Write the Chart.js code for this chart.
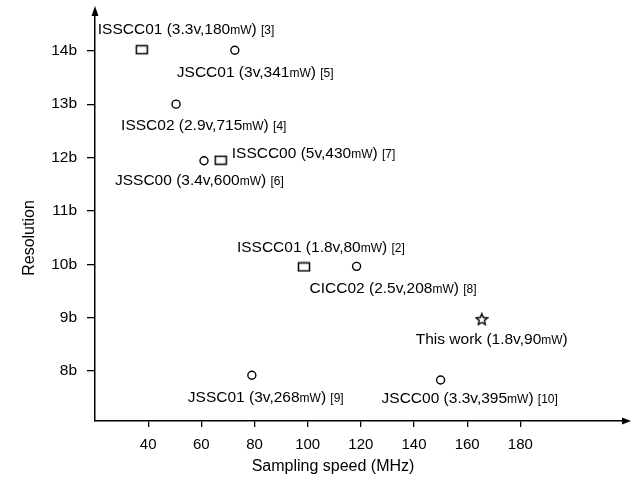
<!DOCTYPE html>
<html>
<head>
<meta charset="utf-8">
<script src="https://cdn.jsdelivr.net/npm/chart.js@4/dist/chart.umd.min.js"></script>
<style>
  html, body { margin: 0; padding: 0; background: #fff; }
  canvas { display: block; }
</style>
</head>
<body>
<canvas id="chart" width="632" height="487"></canvas>
<script>
// data
const circleX = [72.6, 50.5, 61.0, 118.4, 79.0, 150.0];
const circleY = [14.01, 13.0, 11.94, 9.96, 7.92, 7.83];
const circleLabels = [
    'JSCC01 (3v,341mW) [5]',
    'ISSC02 (2.9v,715mW) [4]',
    'JSSC00 (3.4v,600mW) [6]',
    'CICC02 (2.5v,208mW) [8]',
    'JSSC01 (3v,268mW) [9]',
    'JSCC00 (3.3v,395mW) [10]'
];

const rectX = [37.6, 67.3, 98.6];
const rectY = [14.02, 11.95, 9.95];
const rectLabels = [
    'ISSCC01 (3.3v,180mW) [3]',
    'ISSCC00 (5v,430mW) [7]',
    'ISSCC01 (1.8v,80mW) [2]'
];

const starX = [165.5];
const starY = [8.97];
const starLabels = ['This work (1.8v,90mW)'];

const xTicks = [40, 60, 80, 100, 120, 140, 160, 180];
const yTicks = [8, 9, 10, 11, 12, 13, 14];

const xTitle = 'Sampling speed (MHz)';
const yTitle = 'Resolution';

// label placement: [dx, dy] of text start / baseline from the marker
const circleLabelOffsets = [[-58, 27], [-55, 26], [-89, 24], [-47, 27], [-64, 27], [-59, 23]];
const rectLabelOffsets = [[-44, -16], [11, -2], [-67, -15]];
const starLabelOffsets = [[-66, 25]];

const FONT = '"Liberation Sans", Arial, sans-serif';
const INK = '#000';

function toPoints(xs, ys) {
    return xs.map((x, i) => ({ x, y: ys[i] }));
}

function makeRectMarker() {
    const c = document.createElement('canvas');
    c.width = 14;
    c.height = 11;
    const ctx = c.getContext('2d');
    ctx.fillStyle = '#fff';
    ctx.fillRect(1.5, 1.5, 11, 8);
    ctx.strokeStyle = INK;
    ctx.lineWidth = 1.5;
    ctx.strokeRect(1.5, 1.5, 11, 8);
    return c;
}

function makeStarMarker() {
    const c = document.createElement('canvas');
    c.width = 14;
    c.height = 14;
    const ctx = c.getContext('2d');
    ctx.beginPath();
    for (let i = 0; i < 10; i++) {
        const r = i % 2 === 0 ? 6 : 2.7;
        const a = -Math.PI / 2 + i * Math.PI / 5;
        const px = 7 + r * Math.cos(a);
        const py = 7.5 + r * Math.sin(a);
        if (i === 0) ctx.moveTo(px, py); else ctx.lineTo(px, py);
    }
    ctx.closePath();
    ctx.fillStyle = '#fff';
    ctx.fill();
    ctx.strokeStyle = INK;
    ctx.lineWidth = 1.4;
    ctx.stroke();
    return c;
}

// draws "mW" and "[n]" in a smaller size, like the original figure
function drawLabel(ctx, text, x, y) {
    const parts = text.split(/(mW|\[\d+\])/).filter(Boolean);
    let cx = x;
    for (const part of parts) {
        const small = part === 'mW' || part.startsWith('[');
        ctx.font = (small ? '12px ' : '15.5px ') + FONT;
        ctx.fillText(part, cx, y);
        cx += ctx.measureText(part).width;
    }
}

const labelPlugin = {
    id: 'pointLabels',
    afterDatasetsDraw(chart) {
        const ctx = chart.ctx;
        ctx.save();
        ctx.fillStyle = INK;
        ctx.textBaseline = 'alphabetic';
        ctx.textAlign = 'left';
        chart.data.datasets.forEach((ds, di) => {
            const meta = chart.getDatasetMeta(di);
            meta.data.forEach((el, i) => {
                const [dx, dy] = ds.labelOffsets[i];
                drawLabel(ctx, ds.pointLabels[i], el.x + dx, el.y + dy);
            });
        });
        ctx.restore();
    }
};

const axisPlugin = {
    id: 'axisDecor',
    afterDraw(chart) {
        const ctx = chart.ctx;
        const { left, right, top, bottom } = chart.chartArea;
        ctx.save();
        ctx.fillStyle = INK;
        ctx.strokeStyle = INK;
        ctx.lineWidth = 1.5;

        // x axis runs on to the arrow
        ctx.beginPath();
        ctx.moveTo(right, bottom);
        ctx.lineTo(right + 2, bottom);
        ctx.stroke();
        ctx.beginPath();
        ctx.moveTo(right + 7, bottom);
        ctx.lineTo(right - 2, bottom - 3.5);
        ctx.lineTo(right - 2, bottom + 3.5);
        ctx.closePath();
        ctx.fill();

        // y axis arrow
        ctx.beginPath();
        ctx.moveTo(left, top);
        ctx.lineTo(left, top - 2);
        ctx.stroke();
        ctx.beginPath();
        ctx.moveTo(left, top - 8);
        ctx.lineTo(left - 3.5, top + 2);
        ctx.lineTo(left + 3.5, top + 2);
        ctx.closePath();
        ctx.fill();

        // axis titles
        ctx.font = '16px ' + FONT;
        ctx.textAlign = 'center';
        ctx.textBaseline = 'middle';
        ctx.fillText(xTitle, 333, 467);
        ctx.translate(30, 238);
        ctx.rotate(-Math.PI / 2);
        ctx.fillText(yTitle, 0, 0);
        ctx.restore();
    }
};

new Chart(document.getElementById('chart'), {
    type: 'scatter',
    data: {
        datasets: [
            {
                label: 'circle',
                data: toPoints(circleX, circleY),
                pointLabels: circleLabels,
                labelOffsets: circleLabelOffsets,
                pointStyle: 'circle',
                pointRadius: 4,
                borderColor: INK,
                backgroundColor: '#fff',
                borderWidth: 1.4
            },
            {
                label: 'rect',
                data: toPoints(rectX, rectY),
                pointLabels: rectLabels,
                labelOffsets: rectLabelOffsets,
                pointStyle: makeRectMarker(),
                pointRadius: 6
            },
            {
                label: 'star',
                data: toPoints(starX, starY),
                pointLabels: starLabels,
                labelOffsets: starLabelOffsets,
                pointStyle: makeStarMarker(),
                pointRadius: 7
            }
        ]
    },
    options: {
        responsive: false,
        animation: false,
        layout: {
            padding: { top: 14, right: 8, bottom: 0, left: 0 }
        },
        plugins: {
            legend: { display: false },
            tooltip: { enabled: false }
        },
        scales: {
            x: {
                type: 'linear',
                min: 20,
                max: 219,
                afterBuildTicks: (scale) => {
                    scale.ticks = xTicks.map((value) => ({ value }));
                },
                afterFit: (scale) => {
                    scale.height = 66;
                    scale.paddingLeft = 0;
                    scale.paddingRight = 0;
                },
                ticks: {
                    color: INK,
                    padding: 9,
                    font: { family: FONT, size: 15 },
                    callback: (value) => String(value)
                },
                grid: {
                    drawOnChartArea: false,
                    drawTicks: true,
                    tickLength: 6,
                    color: INK,
                    lineWidth: 1.3
                },
                border: { display: true, color: INK, width: 1.5 }
            },
            y: {
                type: 'linear',
                min: 7.062,
                max: 14.69,
                afterBuildTicks: (scale) => {
                    scale.ticks = yTicks.map((value) => ({ value }));
                },
                afterFit: (scale) => {
                    scale.width = 95;
                    scale.paddingTop = 0;
                    scale.paddingBottom = 0;
                },
                ticks: {
                    color: INK,
                    padding: 10,
                    font: { family: FONT, size: 15.5 },
                    callback: (value) => value + 'b'
                },
                grid: {
                    drawOnChartArea: false,
                    drawTicks: true,
                    tickLength: 8,
                    color: INK,
                    lineWidth: 1.3
                },
                border: { display: true, color: INK, width: 1.5 }
            }
        }
    },
    plugins: [labelPlugin, axisPlugin]
});
</script>
</body>
</html>
